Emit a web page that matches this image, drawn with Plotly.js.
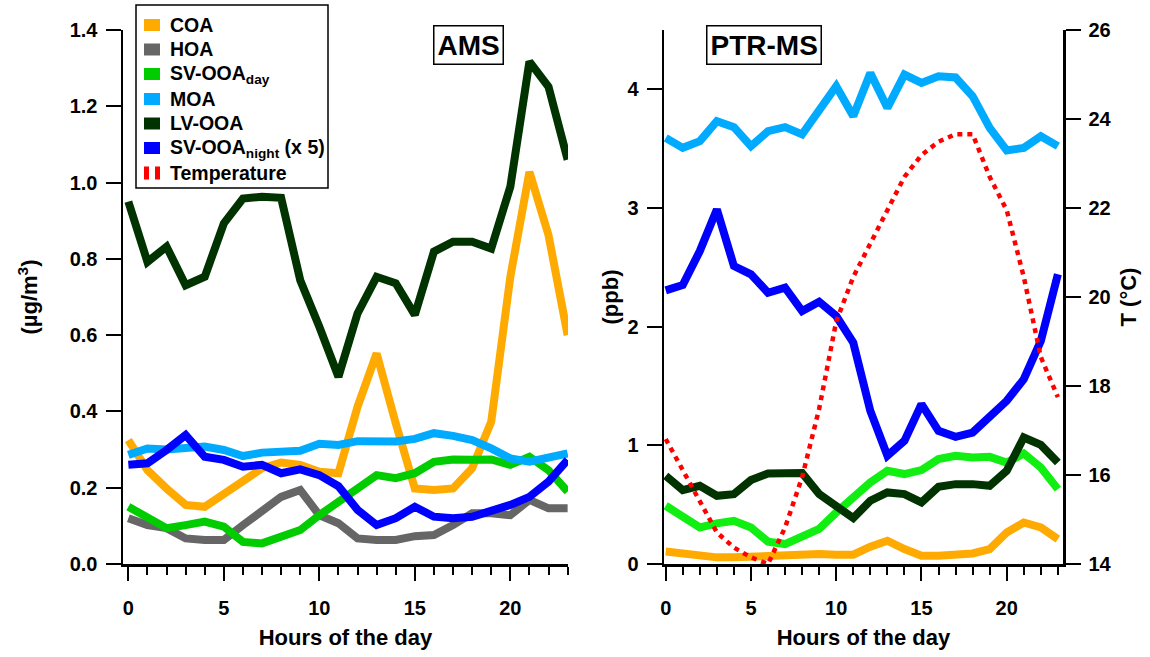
<!DOCTYPE html>
<html>
<head>
<meta charset="utf-8">
<script src="https://cdn.plot.ly/plotly-3.0.1.min.js"></script>
<style>html,body{margin:0;padding:0;background:#fff;}#chart{width:1150px;height:657px;}</style>
</head>
<body>
<div id="chart"></div>
<script>
// ---- data ----
const hours = [0,1,2,3,4,5,6,7,8,9,10,11,12,13,14,15,16,17,18,19,20,21,22,23];

// AMS panel (ug/m3)
const amsCOA   = [0.325,0.246,0.198,0.155,0.150,0.185,0.216,0.251,0.266,0.260,0.242,0.238,0.412,0.552,0.369,0.198,0.194,0.198,0.251,0.373,0.753,1.028,0.862,0.600];
const amsHOA   = [0.120,0.102,0.094,0.067,0.063,0.063,0.102,0.142,0.176,0.194,0.128,0.107,0.067,0.063,0.063,0.073,0.076,0.102,0.133,0.133,0.128,0.168,0.146,0.146];
const amsSVday = [0.150,0.124,0.094,0.102,0.111,0.098,0.058,0.054,0.072,0.089,0.128,0.163,0.203,0.233,0.225,0.238,0.268,0.274,0.273,0.274,0.260,0.281,0.246,0.190];
const amsMOA   = [0.286,0.303,0.300,0.306,0.308,0.299,0.283,0.292,0.292,0.297,0.315,0.312,0.322,0.322,0.321,0.328,0.343,0.336,0.325,0.303,0.277,0.268,0.277,0.290];
const amsLVOOA = [0.950,0.792,0.832,0.731,0.753,0.893,0.958,0.963,0.960,0.744,0.622,0.491,0.657,0.753,0.736,0.653,0.819,0.845,0.845,0.827,0.989,1.317,1.251,1.060];
const amsSVnight = [0.260,0.264,0.299,0.338,0.281,0.273,0.255,0.260,0.238,0.248,0.233,0.204,0.142,0.102,0.120,0.150,0.124,0.120,0.124,0.137,0.155,0.176,0.216,0.273];

// PTR-MS panel (ppb)
const ptrCOA   = [0.106,0.084,0.070,0.056,0.056,0.061,0.076,0.084,0.089,0.084,0.078,0.078,0.146,0.196,0.126,0.070,0.070,0.076,0.089,0.126,0.266,0.350,0.308,0.210];
const ptrSVday = [0.491,0.398,0.308,0.342,0.364,0.308,0.188,0.168,0.230,0.295,0.434,0.561,0.687,0.785,0.758,0.791,0.884,0.912,0.897,0.903,0.855,0.931,0.813,0.631];
const ptrMOA   = [3.590,3.507,3.563,3.731,3.681,3.521,3.647,3.681,3.620,3.816,4.026,3.774,4.138,3.844,4.124,4.054,4.110,4.100,3.942,3.675,3.485,3.507,3.605,3.521];
const ptrLVOOA = [0.743,0.623,0.659,0.575,0.589,0.707,0.763,0.771,0.766,0.589,0.491,0.387,0.533,0.603,0.589,0.519,0.651,0.673,0.673,0.659,0.785,1.066,1.004,0.855];
const ptrSVnight = [2.306,2.351,2.637,2.988,2.511,2.441,2.286,2.328,2.132,2.210,2.090,1.865,1.290,0.912,1.038,1.347,1.122,1.072,1.108,1.234,1.375,1.557,1.880,2.441];
const temperature = [16.81,16.10,15.43,14.71,14.37,14.15,14.00,14.82,15.95,17.49,19.45,20.45,21.20,21.95,22.70,23.19,23.49,23.66,23.66,22.70,21.95,20.45,18.65,17.75];

// legend / labels
const legendLabels = ["COA","HOA","SV-OOA<sub>day</sub>","MOA","LV-OOA","SV-OOA<sub>night</sub> (x 5)","Temperature"];
const colors = {COA:"#FFAA00", HOA:"#666666", SVday:"#00CC00", SVdayPTR:"#11EE11", MOA:"#00AAFF", LVOOA:"#003300", SVnight:"#0000FF", T:"#FF0000"};

// ---- helpers (pixel -> paper) ----
const W = 1150, H = 657;
const px = x => x / W;
const py = y => 1 - y / H;
const FONT = "Liberation Sans, Arial, sans-serif";
const LW = 8;

function line(x, y, color, xa, ya, extra) {
  return Object.assign({x: x, y: y, type: "scatter", mode: "lines", xaxis: xa, yaxis: ya,
    line: {color: color, width: LW}, showlegend: false, hoverinfo: "x+y"}, extra || {});
}

const traces = [
  line(hours, amsCOA, colors.COA, "x", "y"),
  line(hours, amsHOA, colors.HOA, "x", "y"),
  line(hours, amsSVday, colors.SVday, "x", "y"),
  line(hours, amsMOA, colors.MOA, "x", "y"),
  line(hours, amsLVOOA, colors.LVOOA, "x", "y"),
  line(hours, amsSVnight, colors.SVnight, "x", "y"),
  line(hours, ptrCOA, colors.COA, "x2", "y2"),
  line(hours, ptrSVday, colors.SVdayPTR, "x2", "y2"),
  line(hours, ptrMOA, colors.MOA, "x2", "y2"),
  line(hours, ptrLVOOA, colors.LVOOA, "x2", "y2"),
  line(hours, ptrSVnight, colors.SVnight, "x2", "y2"),
  line(hours, temperature, colors.T, "x2", "y3", {line: {color: colors.T, width: 4.5, dash: "5px,5px"}})
];

const tickFont = {family: FONT, size: 20, color: "#000", weight: "bold"};
const titleFont = {family: FONT, size: 22, color: "#000", weight: "bold"};
const yDom = [py(564), py(30)];

function xAxis(domain, range, anchor) {
  return {domain: domain, range: range, anchor: anchor, showline: true, linewidth: 2.5, linecolor: "#000",
    ticks: "outside", ticklen: 14, tickwidth: 2, tickcolor: "#000", tick0: 0, dtick: 5,
    minor: {ticks: "outside", dtick: 1, tick0: 0, ticklen: 8, tickwidth: 2, tickcolor: "#000", showgrid: false},
    showgrid: false, zeroline: false, tickfont: tickFont, ticklabelstandoff: 10,
    title: {text: "Hours of the day", font: titleFont, standoff: 12}};
}

const layout = {
  width: W, height: H,
  margin: {l: 0, r: 0, t: 0, b: 0},
  paper_bgcolor: "#fff", plot_bgcolor: "#fff",
  showlegend: false,
  font: {family: FONT, color: "#000"},
  xaxis: xAxis([px(123), px(568)], [-0.28, 23.02], "y"),
  xaxis2: xAxis([px(664), px(1063)], [-0.1, 23.3], "y2"),
  yaxis: {domain: yDom, range: [0, 1.4], anchor: "x", dtick: 0.2, tick0: 0, tickformat: ".1f",
    showline: true, linewidth: 2.5, linecolor: "#000", ticks: "outside", ticklen: 15, tickwidth: 2, tickcolor: "#000",
    showgrid: false, zeroline: false, tickfont: tickFont, ticklabelstandoff: 4,
    title: {text: "(µg/m<sup>3</sup>)", font: titleFont, standoff: 26}},
  yaxis2: {domain: yDom, range: [0, 4.5], anchor: "x2", dtick: 1, tick0: 0,
    showline: true, linewidth: 2.5, linecolor: "#000", ticks: "outside", ticklen: 15, tickwidth: 2, tickcolor: "#000",
    showgrid: false, zeroline: false, tickfont: tickFont, ticklabelstandoff: 4,
    title: {text: "(ppb)", font: titleFont, standoff: 3}},
  yaxis3: {domain: yDom, range: [14, 26], anchor: "x2", overlaying: "y2", side: "right", dtick: 2, tick0: 14,
    showline: true, linewidth: 2.5, linecolor: "#000", ticks: "outside", ticklen: 15, tickwidth: 2, tickcolor: "#000",
    showgrid: false, zeroline: false, tickfont: tickFont, ticklabelstandoff: 4,
    title: {text: "T (°C)", font: titleFont, standoff: 10}},
  shapes: [],
  annotations: []
};

// panel labels
[["AMS", 468.5], ["PTR-MS", 763.5]].forEach(function (p) {
  layout.annotations.push({text: p[0], xref: "paper", yref: "paper", x: px(p[1]), y: py(44.5),
    xanchor: "center", yanchor: "middle", showarrow: false,
    font: {family: FONT, size: 28, color: "#000", weight: "bold"},
    bordercolor: "#000", borderwidth: 1.5, borderpad: 3, bgcolor: "#fff"});
});

// manual legend
layout.shapes.push({type: "rect", xref: "paper", yref: "paper", x0: px(136), x1: px(328), y0: py(5), y1: py(188),
  line: {color: "#000", width: 1.5}, fillcolor: "#fff", layer: "above"});
const legColors = [colors.COA, colors.HOA, colors.SVday, colors.MOA, colors.LVOOA, colors.SVnight, colors.T];
const legY = [25, 49.5, 74, 99, 123.5, 148, 173];
legendLabels.forEach(function (lab, i) {
  const yc = legY[i];
  if (i < 6) {
    layout.shapes.push({type: "rect", xref: "paper", yref: "paper", x0: px(144), x1: px(160), y0: py(yc - 6), y1: py(yc + 6),
      line: {width: 0}, fillcolor: legColors[i], layer: "above"});
  } else {
    [[144, 149], [155, 160]].forEach(function (b) {
      layout.shapes.push({type: "rect", xref: "paper", yref: "paper", x0: px(b[0]), x1: px(b[1]), y0: py(yc - 6.5), y1: py(yc + 6.5),
        line: {width: 0}, fillcolor: legColors[i], layer: "above"});
    });
  }
  layout.annotations.push({text: lab, xref: "paper", yref: "paper", x: px(168), y: py(yc), xanchor: "left", yanchor: "middle",
    showarrow: false, font: {family: FONT, size: 19.5, color: "#000", weight: "bold"}});
});

Plotly.newPlot("chart", traces, layout, {displayModeBar: false, staticPlot: true});
</script>
</body>
</html>
